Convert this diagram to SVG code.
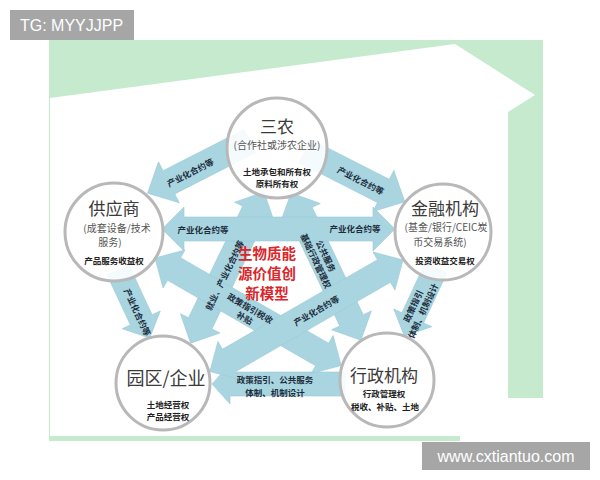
<svg xmlns="http://www.w3.org/2000/svg" width="600" height="480" viewBox="0 0 600 480">
<style>
.band{fill:#a9d5e0;stroke:#9ccbd8;stroke-width:0.6}
.node{fill:#ffffff;fill-opacity:0.88;stroke:#b8b8b8;stroke-width:3}
.t1{font-family:"Noto Sans CJK SC","Noto Sans",sans-serif;font-size:17px;fill:#3a3a3a;text-anchor:middle}
.t2{font-family:"Noto Sans CJK SC","Noto Sans",sans-serif;font-size:10px;fill:#555;text-anchor:middle}
.t3{font-family:"Noto Sans CJK SC","Noto Sans",sans-serif;font-size:8.5px;font-weight:bold;fill:#222;text-anchor:middle}
.lb{font-family:"Noto Sans CJK SC","Noto Sans",sans-serif;font-size:8.5px;font-weight:bold;fill:#1d2d3d;text-anchor:middle;dominant-baseline:central}
.core{font-family:"Noto Sans CJK SC","Noto Sans",sans-serif;font-size:14.5px;font-weight:bold;fill:#d9262b;text-anchor:middle}
.wm{font-family:"Liberation Sans",Arial,sans-serif;font-size:16px;fill:#ffffff}
</style>
<rect width="600" height="480" fill="#ffffff"/>
<g id="background">
<rect x="49" y="40" width="494" height="401" fill="#c6eacd"/>
<polygon points="50,98 455,44 535,95 508,112 508,398 543,398 543,441 460,441 460,436 50,436" fill="#ffffff"/>
</g>
<g id="connectors">
<path class="band" transform="translate(250,141) rotate(153)" d="M0,-13 L91,-13 L91,-23 L115,0 L91,23 L91,13 L0,13 Z"/>
<path class="band" transform="translate(305,151) rotate(27)" d="M0,-13 L88,-13 L88,-23 L112,0 L88,23 L88,13 L0,13 Z"/>
<path class="band" transform="translate(118,270) rotate(65)" d="M0,-12 L55,-12 L55,-21 L75,0 L55,21 L55,12 L0,12 Z"/>
<path class="band" transform="translate(436,268) rotate(115)" d="M0,-12 L55,-12 L55,-21 L75,0 L55,21 L55,12 L0,12 Z"/>
<path class="band" transform="translate(345,384) rotate(180)" d="M0,-12 L115,-12 L115,-20 L133,0 L115,20 L115,12 L0,12 Z"/>
<path class="band" transform="translate(264,192) rotate(115.9)" d="M0,0 L22,-22 L22,-13 L146,-13 L146,-22 L168,0 L146,22 L146,13 L22,13 L22,22 Z"/>
<path class="band" transform="translate(291,193) rotate(64.6)" d="M0,0 L22,-22 L22,-13 L141,-13 L141,-22 L163,0 L141,22 L141,13 L22,13 L22,22 Z"/>
<path class="band" transform="translate(155,258) rotate(30)" d="M0,0 L22,-22 L22,-13 L193,-13 L193,-22 L215,0 L193,22 L193,13 L22,13 L22,22 Z"/>
<path class="band" transform="translate(403,260) rotate(150)" d="M0,0 L22,-22 L22,-13 L201,-13 L201,-22 L223,0 L201,22 L201,13 L22,13 L22,22 Z"/>
<path class="band" transform="translate(162,229)" d="M0,0 L22,-22 L22,-12 L211,-12 L211,-22 L233,0 L211,22 L211,12 L22,12 L22,22 Z"/>
<text class="lb" transform="translate(190,172) rotate(-27)">产业化合约等</text>
<text class="lb" transform="translate(361,180) rotate(27)">产业化合约等</text>
<text class="lb" transform="translate(138,312) rotate(65)">产业化合约等</text>
<text class="lb" transform="translate(417,308) rotate(-65)"><tspan x="0" y="-5">政策指引</tspan><tspan x="0" y="6">体制、机制设计</tspan></text>
<text class="lb" transform="translate(224,275) rotate(-64.1)">就业、产业化合约等</text>
<text class="lb" transform="translate(322,258) rotate(64.6)"><tspan x="0" y="-5">公共服务</tspan><tspan x="0" y="6">基础行政管理权</tspan></text>
<text class="lb" transform="translate(248,312) rotate(30)"><tspan x="0" y="-5">政策指引税收</tspan><tspan x="0" y="6">补贴</tspan></text>
<text class="lb" transform="translate(316,310) rotate(-30)">产业化合约等</text>
<text class="lb" x="203" y="229">产业化合约等</text>
<text class="lb" x="355" y="228">产业化合约等</text>
<text class="lb" x="275" y="379">政策指引、公共服务</text>
<text class="lb" x="275" y="392">体制、机制设计</text>
</g>
<g id="core">
<text class="core" x="267" y="259">生物质能</text>
<text class="core" x="267" y="279">源价值创</text>
<text class="core" x="267" y="299">新模型</text>
</g>
<g id="sannong">
<circle class="node" cx="277" cy="148" r="50"/>
<text class="t1" x="277" y="133">三农</text>
<text class="t2" x="277" y="149">(合作社或涉农企业)</text>
<text class="t3" x="277" y="175">土地承包和所有权</text>
<text class="t3" x="277" y="187">原料所有权</text>
</g>
<g id="gongyingshang">
<circle class="node" cx="114" cy="232" r="49"/>
<text class="t1" x="114" y="215">供应商</text>
<text class="t2" x="117" y="232">(成套设备/技术</text>
<text class="t2" x="110" y="246">服务)</text>
<text class="t3" x="114" y="264">产品服务收益权</text>
</g>
<g id="jinrong">
<circle class="node" cx="443" cy="232" r="48"/>
<text class="t1" x="445" y="215">金融机构</text>
<text class="t2" x="446" y="231">(基金/银行/CEIC炭</text>
<text class="t2" x="440" y="246">币交易系统)</text>
<text class="t3" x="445" y="264">投资收益交易权</text>
</g>
<g id="yuanqu">
<circle class="node" cx="163" cy="383" r="47"/>
<text class="t1" x="166" y="385" style="font-size:18px">园区/企业</text>
<text class="t3" x="168" y="408">土地经营权</text>
<text class="t3" x="168" y="420">产品经营权</text>
</g>
<g id="xingzheng">
<circle class="node" cx="387" cy="380" r="47"/>
<text class="t1" x="384" y="382">行政机构</text>
<text class="t3" x="384" y="397">行政管理权</text>
<text class="t3" x="385" y="410">税收、补贴、土地</text>
</g>
<g id="watermarks">
<rect x="10" y="10" width="124" height="30" fill="#a6a6a6"/>
<text class="wm" x="20" y="31">TG: MYYJJPP</text>
<rect x="422" y="442" width="168" height="28" fill="#a6a6a6"/>
<text class="wm" x="506" y="462" text-anchor="middle">www.cxtiantuo.com</text>
</g>
</svg>
